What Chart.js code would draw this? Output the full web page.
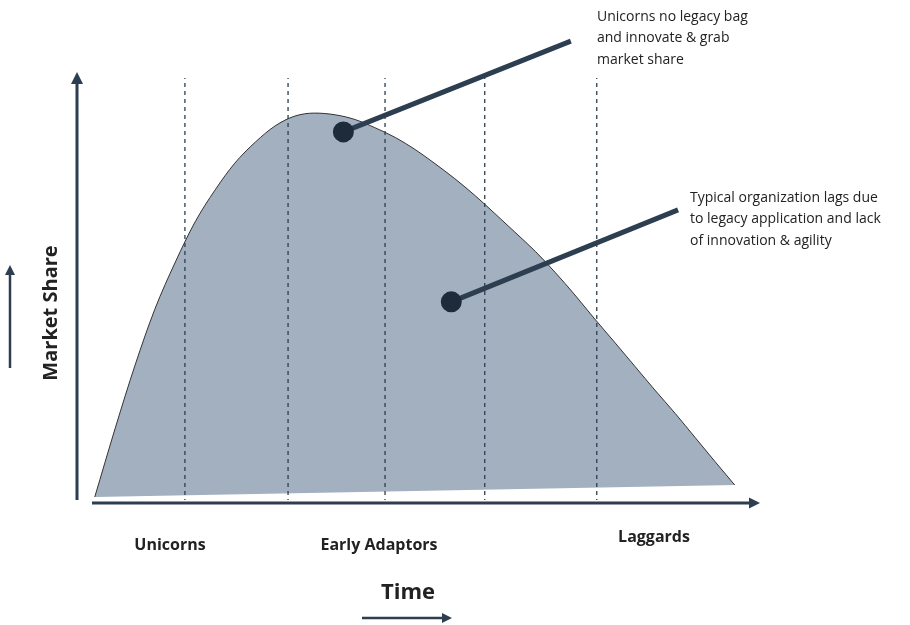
<!DOCTYPE html>
<html>
<head>
<meta charset="utf-8">
<script src="https://cdn.jsdelivr.net/npm/chart.js@4.4.1/dist/chart.umd.min.js"></script>
<style>
  html, body { margin: 0; padding: 0; background: #fff; }
  #wrap { width: 910px; height: 625px; }
</style>
</head>
<body>
<div id="wrap"><canvas id="myChart" width="910" height="625"></canvas></div>
<script>
// stage names under the time axis
var stages = ["Unicorns", "Early Adaptors", "Laggards"];

// market share curve (time 0-100, share 0-100)
var curveX = [2.6, 5.6, 8.5, 11.4, 14.4, 17.3, 20.2, 23.1, 26.1, 29.0, 31.9, 34.8, 37.8, 40.7, 43.6, 46.6, 49.5,
              52.4, 55.3, 58.3, 61.2, 64.1, 67.1, 70.0, 72.9, 75.8, 78.8, 81.7, 84.6, 87.6, 90.5, 93.4, 96.3];
var curveY = [0.7, 16.8, 31.5, 44.6, 55.6, 65.0, 72.4, 78.7, 83.6, 87.4, 89.7, 90.4, 90.0, 88.9, 87.0, 84.7, 81.9,
              78.6, 75.1, 71.1, 66.9, 62.6, 58.1, 53.2, 47.9, 42.3, 36.7, 31.2, 25.7, 20.2, 14.6, 9.0, 3.5];

// bottom edge of the shaded area
var baseX = [2.6, 96.3];
var baseY = [0.7, 3.5];

// dotted dividers
var dividers = [15.8, 30.9, 45.1, 59.7, 76.1];
var dividerTop = 98.6;

// callouts: [dot, line end]
var callout1 = [[39.0, 86.0], [72.3, 107.2]];
var callout2 = [[54.8, 46.3], [88.0, 67.8]];
var callout1Text = ["Unicorns no legacy bag", "and innovate & grab", "market share"];
var callout2Text = ["Typical organization lags due", "to legacy application and lack", "of innovation & agility"];

var navy = "#2c3e50";
var font = "'Open Sans', 'Noto Sans', sans-serif";

function pts(xs, ys) {
  return xs.map(function (x, i) { return { x: x, y: ys[i] }; });
}

var datasets = [];
datasets.push({
  data: pts(curveX, curveY),
  borderColor: "#333",
  borderWidth: 1,
  backgroundColor: "#a2b0c0",
  fill: "+1",
  pointRadius: 0,
  cubicInterpolationMode: "monotone",
  order: 2
});
datasets.push({
  data: pts(baseX, baseY),
  borderWidth: 0,
  borderColor: "rgba(0,0,0,0)",
  pointRadius: 0,
  fill: false,
  order: 2
});
dividers.forEach(function (d) {
  datasets.push({
    data: [{ x: d, y: -0.7 }, { x: d, y: dividerTop }],
    borderColor: navy,
    borderWidth: 1.3,
    borderDash: [4, 4],
    pointRadius: 0,
    fill: false,
    order: 1
  });
});
[callout1, callout2].forEach(function (c) {
  datasets.push({
    data: [{ x: c[0][0], y: c[0][1] }, { x: c[1][0], y: c[1][1] }],
    borderColor: navy,
    borderWidth: 5,
    pointRadius: [8, 0],
    pointBackgroundColor: "#1d2b3a",
    pointBorderColor: "#1d2b3a",
    fill: false,
    clip: false,
    order: 0
  });
});

function arrow(ctx, x1, y1, x2, y2, w, head) {
  var a = Math.atan2(y2 - y1, x2 - x1);
  ctx.save();
  ctx.strokeStyle = navy;
  ctx.fillStyle = navy;
  ctx.lineWidth = w;
  ctx.beginPath();
  ctx.moveTo(x1, y1);
  ctx.lineTo(x2 - Math.cos(a) * head, y2 - Math.sin(a) * head);
  ctx.stroke();
  ctx.beginPath();
  ctx.moveTo(x2, y2);
  ctx.lineTo(x2 - Math.cos(a) * head - Math.sin(a) * head * 0.5, y2 - Math.sin(a) * head + Math.cos(a) * head * 0.5);
  ctx.lineTo(x2 - Math.cos(a) * head + Math.sin(a) * head * 0.5, y2 - Math.sin(a) * head - Math.cos(a) * head * 0.5);
  ctx.closePath();
  ctx.fill();
  ctx.restore();
}

var decor = {
  id: "decor",
  afterDraw: function (chart) {
    var ctx = chart.ctx;
    var a = chart.chartArea;
    // axes
    arrow(ctx, a.left, a.bottom, a.left, a.top, 3, 12);
    arrow(ctx, a.left + 15, a.bottom + 3, a.right, a.bottom + 3, 3, 11);

    ctx.save();
    ctx.fillStyle = "#222";
    ctx.textBaseline = "middle";
    ctx.textAlign = "center";
    ctx.font = "bold 16px " + font;
    ctx.fillText(stages[0], 170, 545);
    ctx.fillText(stages[1], 379, 545);
    ctx.fillText(stages[2], 654, 537);

    ctx.font = "bold 22px " + font;
    ctx.fillText("Time", 408, 593);
    ctx.font = "bold 20px " + font;
    ctx.save();
    ctx.translate(51, 313);
    ctx.rotate(-Math.PI / 2);
    ctx.fillText("Market Share", 0, 0);
    ctx.restore();

    ctx.textAlign = "left";
    ctx.font = "14px " + font;
    callout1Text.forEach(function (t, i) { ctx.fillText(t, 597, 17 + i * 21.5); });
    callout2Text.forEach(function (t, i) { ctx.fillText(t, 690, 198 + i * 21.5); });
    ctx.restore();

    arrow(ctx, 362, 618, 452, 618, 2.5, 10);
    arrow(ctx, 10, 368, 10, 265, 2.5, 10);
  }
};

new Chart(document.getElementById("myChart"), {
  type: "line",
  data: { datasets: datasets },
  options: {
    responsive: false,
    animation: false,
    layout: { padding: { left: 77, right: 150, top: 72, bottom: 125 } },
    plugins: { legend: { display: false }, tooltip: { enabled: false } },
    scales: {
      x: { type: "linear", min: 0, max: 100, display: false },
      y: { type: "linear", min: 0, max: 100, display: false }
    }
  },
  plugins: [decor]
});
</script>
</body>
</html>
